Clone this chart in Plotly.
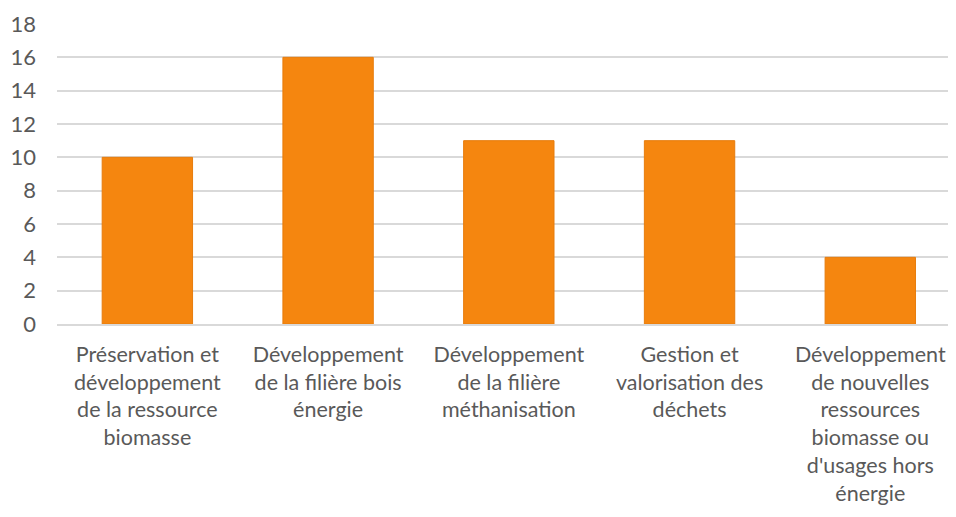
import plotly.graph_objects as go

categories = [
    "Préservation et<br>développement<br>de la ressource<br>biomasse",
    "Développement<br>de la filière bois<br>énergie",
    "Développement<br>de la filière<br>méthanisation",
    "Gestion et<br>valorisation des<br>déchets",
    "Développement<br>de nouvelles<br>ressources<br>biomasse ou<br>d'usages hors<br>énergie",
]
values = [10, 16, 11, 11, 4]
y_ticks = [0, 2, 4, 6, 8, 10, 12, 14, 16, 18]

fig = go.Figure(
    go.Bar(
        x=categories,
        y=values,
        marker=dict(color="#F5860F", line=dict(color="#E77C0C", width=1)),
        hoverinfo="x+y",
    )
)

fig.update_layout(
    width=940,
    height=501,
    margin=dict(l=49, r=0, t=16, b=185),
    paper_bgcolor="white",
    plot_bgcolor="white",
    bargap=0.5,
    showlegend=False,
    font=dict(family="Lato", size=22, color="#595959"),
)
fig.update_yaxes(
    range=[0, 18],
    tickvals=y_ticks,
    automargin=False,
    showgrid=True,
    gridcolor="#D9D9D9",
    gridwidth=1.5,
    zeroline=False,
    showline=False,
    ticks="",
    ticklabelstandoff=20,
    tickfont=dict(size=22, color="#595959"),
)
fig.update_xaxes(
    range=[-0.5, 4.43],
    automargin=False,
    showline=True,
    linecolor="#D9D9D9",
    linewidth=1.5,
    ticks="",
    tickangle=0,
    ticklabelstandoff=10,
    tickfont=dict(size=21.5, color="#595959"),
)

fig.write_html("out.html")
